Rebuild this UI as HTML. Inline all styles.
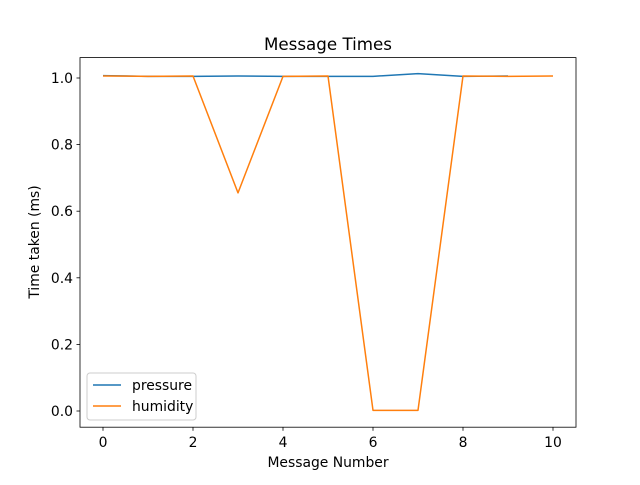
<!DOCTYPE html>
<html><head><meta charset="utf-8"><style>
body{margin:0;background:#fff;}
svg{font-family:"DejaVu Sans","Liberation Sans",sans-serif;}
</style></head><body>
<svg id="chart" width="640" height="480" viewBox="0 0 640 480">
<rect width="640" height="480" fill="#fff"/>
<text x="328" y="50" font-size="16.7" text-anchor="middle">Message Times</text>
<g id="plot"></g>
<rect x="80" y="57.6" width="496" height="369.6" fill="none" stroke="#000" stroke-width="0.8"/>
<text x="328" y="467" font-size="13.9" text-anchor="middle">Message Number</text>
<text transform="translate(39,242) rotate(-90)" font-size="13.9" text-anchor="middle">Time taken (ms)</text>
<g>
<rect x="87" y="373" width="109" height="47" rx="3" fill="#fff" fill-opacity="0.8" stroke="#ccc" stroke-width="1"/>
<line x1="93" y1="385" x2="121" y2="385" stroke="#1f77b4" stroke-width="1.5"/>
<text x="132" y="390" font-size="13.9">pressure</text>
<line x1="93" y1="406" x2="121" y2="406" stroke="#ff7f0e" stroke-width="1.5"/>
<text x="132" y="411" font-size="13.9">humidity</text>
</g>
</svg>
<script>
const xTicks=[0,2,4,6,8,10];
const yTicks=[0.0,0.2,0.4,0.6,0.8,1.0];
const pressure=[1.007,1.005,1.005,1.006,1.005,1.005,1.005,1.013,1.005,1.006];
const humidity=[1.006,1.005,1.006,0.655,1.005,1.006,0.002,0.002,1.006,1.005,1.006];
const NS="http://www.w3.org/2000/svg";
const X=v=>103+v*45;
const Y=v=>411-v*333;
const g=document.getElementById('plot');
function mk(t,a){const e=document.createElementNS(NS,t);for(const k in a)e.setAttribute(k,a[k]);g.appendChild(e);return e;}
xTicks.forEach(t=>{
 const l=mk('line',{x1:X(t),x2:X(t),y1:427.2,y2:430.7,stroke:'#000','stroke-width':0.8});
 
 
 const tx=mk('text',{x:X(t),y:447,'font-size':13.9,'text-anchor':'middle'});tx.textContent=t;
 
 
});
yTicks.forEach(t=>{
 const l=mk('line',{x1:76.5,x2:80,y1:Y(t),y2:Y(t),stroke:'#000','stroke-width':0.8});
 
 
 const tx=mk('text',{x:73,y:Y(t)+5,'font-size':13.9,'text-anchor':'end'});tx.textContent=t.toFixed(1);
 
 
});
function line(arr,c,name){
 const p=mk('polyline',{points:arr.map((v,i)=>X(i)+','+Y(v)).join(' '),fill:'none',stroke:c,'stroke-width':1.5,'stroke-linejoin':'round'});
 
 
}
line(pressure,'#1f77b4','pressure-line');
line(humidity,'#ff7f0e','humidity-line');
</script>
</body></html>
